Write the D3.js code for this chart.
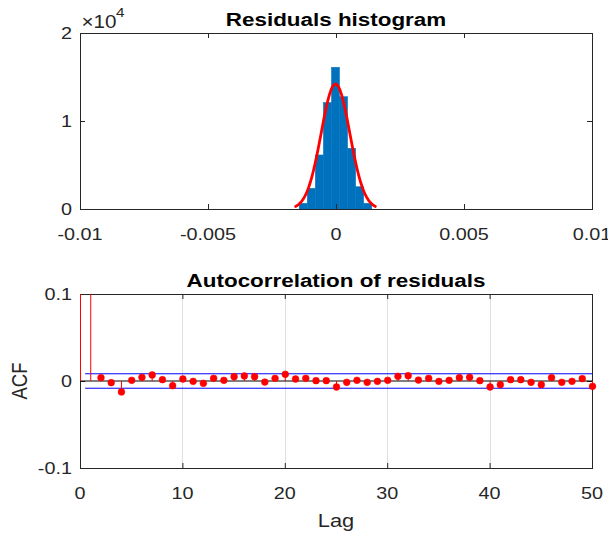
<!DOCTYPE html>
<html>
<head>
<meta charset="utf-8">
<script src="https://cdn.jsdelivr.net/npm/d3@7"></script>
<style>
  html, body { margin: 0; padding: 0; background: #fff; }
  svg { display: block; }
  text { font-family: "Liberation Sans", Arial, Helvetica, sans-serif; fill: #262626; }
</style>
</head>
<body>
<svg id="chart" width="608" height="536"></svg>
<script>
// ---------------- data ----------------
// Histogram of residuals (bin centres and counts)
const histCenters = [-12.8e-4, -9.65e-4, -6.5e-4, -3.35e-4, -0.2e-4, 2.95e-4, 6.1e-4, 9.25e-4, 12.4e-4];
const histCounts  = [650, 2350, 6140, 12100, 16100, 12760, 6900, 2530, 650];
const histBinWidth = 3.15e-4;
// Fitted normal curve parameters (histfit)
const fitMu = -0.2e-4;
const fitSigma = 5.6e-4;
const fitPeak = 14200;
const fitRange = [-15.8e-4, 15.4e-4];

const histXTicks = [-0.01, -0.005, 0, 0.005, 0.01];
const histXTickLabels = ["-0.01", "-0.005", "0", "0.005", "0.01"];
const histYTicks = [0, 1e4, 2e4];
const histYTickLabels = ["0", "1", "2"];

// Autocorrelation of residuals, lags 0..50
const acfLags = d3.range(0, 51);
const acfValues = [
  1, 0.5,
  0.0038, -0.0019, -0.0126, 0.0008, 0.0042, 0.0069, 0.0015, -0.0054,
  0.0023, -0.0004, -0.0027, 0.0031, 0.0008, 0.0050, 0.0058, 0.0050,
  -0.0012, 0.0031, 0.0077, 0.0023, 0.0031, 0.0004, 0.0004, -0.0069,
  -0.0015, 0.0008, -0.0015, -0.0004, 0.0008, 0.0054, 0.0061, 0.0011,
  0.0031, -0.0004, 0.0008, 0.0038, 0.0042, 0.0004, -0.0069, -0.0042,
  0.0015, 0.0015, -0.0015, -0.0042, 0.0038, -0.0015, -0.0004, 0.0027,
  -0.0061
];
const acfBound = 0.0083;
const acfXTicks = [0, 10, 20, 30, 40, 50];
const acfYTicks = [-0.1, 0, 0.1];
const acfYTickLabels = ["-0.1", "0", "0.1"];

// ---------------- drawing ----------------
const SX = 1.18;        // horizontal stretch of the reference text
const FS = 16.8;        // tick font size
const TFS = 19;         // title font size
const AXC = "#262626";

const svg = d3.select("#chart");

function label(g, x, y, str, opt = {}) {
  const rot = opt.rotate ? ` rotate(${opt.rotate})` : "";
  return g.append("text")
    .attr("transform", `translate(${x},${y}) scale(${SX},1)${rot}`)
    .attr("text-anchor", opt.anchor || "middle")
    .attr("font-size", opt.size || FS)
    .attr("font-weight", opt.bold ? "bold" : "normal")
    .style("fill", opt.fill || AXC)
    .text(str);
}

function styleAxis(sel) {
  sel.select(".domain").remove();
  sel.selectAll(".tick line").attr("stroke", AXC).attr("stroke-width", 1);
  sel.selectAll(".tick text").remove();
}

const L = 80, R = 592;

// ===== Histogram panel =====
const hTop = 33, hBot = 209;
const hx = d3.scaleLinear().domain([-0.01, 0.01]).range([L, R]);
const hy = d3.scaleLinear().domain([0, 2e4]).range([hBot, hTop]);

const gH = svg.append("g");

// bars
gH.append("g").selectAll("rect").data(histCenters).join("rect")
  .attr("x", (d) => hx(d - histBinWidth / 2))
  .attr("width", (d) => hx(d + histBinWidth / 2) - hx(d - histBinWidth / 2))
  .attr("y", (d, i) => hy(histCounts[i]))
  .attr("height", (d, i) => hy(0) - hy(histCounts[i]))
  .attr("fill", "#0072BD")
  .attr("stroke", "#0072BD")
  .attr("stroke-width", 0.5);

// fitted normal curve
const curveX = d3.range(0, 101).map((i) => fitRange[0] + (fitRange[1] - fitRange[0]) * i / 100);
const curveLine = d3.line()
  .x((d) => hx(d))
  .y((d) => hy(fitPeak * Math.exp(-0.5 * Math.pow((d - fitMu) / fitSigma, 2))))
  .curve(d3.curveLinear);
gH.append("path").datum(curveX).attr("d", curveLine)
  .attr("fill", "none").attr("stroke", "#FF0000").attr("stroke-width", 2.8)
  .attr("stroke-linejoin", "round").attr("stroke-linecap", "round");

// axes (ticks inside)
styleAxis(gH.append("g").attr("transform", `translate(0,${hBot})`)
  .call(d3.axisBottom(hx).tickValues(histXTicks).tickSizeInner(-5).tickSizeOuter(0)));
styleAxis(gH.append("g").attr("transform", `translate(0,${hTop})`)
  .call(d3.axisTop(hx).tickValues(histXTicks).tickSizeInner(-5).tickSizeOuter(0)));
styleAxis(gH.append("g").attr("transform", `translate(${L},0)`)
  .call(d3.axisLeft(hy).tickValues(histYTicks).tickSizeInner(-5).tickSizeOuter(0)));
styleAxis(gH.append("g").attr("transform", `translate(${R},0)`)
  .call(d3.axisRight(hy).tickValues(histYTicks).tickSizeInner(-5).tickSizeOuter(0)));

gH.append("rect").attr("x", L + 0.5).attr("y", hTop + 0.5).attr("width", R - L).attr("height", hBot - hTop)
  .attr("fill", "none").attr("stroke", AXC).attr("stroke-width", 1);

histXTicks.forEach((t, i) => label(gH, hx(t), hBot + 31, histXTickLabels[i]));
histYTicks.forEach((t, i) => label(gH, L - 8, hy(t) + 6, histYTickLabels[i], { anchor: "end" }));
// exponent
label(gH, L + 1.5, 27.5, "\u00d710", { anchor: "start", size: 17.5 });
label(gH, L + 36, 16.5, "4", { anchor: "start", size: 13 });

label(gH, (L + R) / 2, 26, "Residuals histogram", { bold: true, size: TFS, fill: "#000" });

// ===== ACF panel =====
const aTop = 294, aBot = 468;
const ax = d3.scaleLinear().domain([0, 50]).range([L, R]);
const ay = d3.scaleLinear().domain([-0.1, 0.1]).range([aBot, aTop]);

const gA = svg.append("g");
gA.append("defs").append("clipPath").attr("id", "acfClip")
  .append("rect").attr("x", L - 10).attr("y", aTop).attr("width", R - L + 20).attr("height", aBot - aTop);

// grid
gA.append("g").selectAll("line").data(acfXTicks.slice(1, -1)).join("line")
  .attr("x1", (d) => Math.round(ax(d)) + 0.5).attr("x2", (d) => Math.round(ax(d)) + 0.5)
  .attr("y1", aTop).attr("y2", aBot)
  .attr("stroke", "#dfdfdf").attr("stroke-width", 1);

styleAxis(gA.append("g").attr("transform", `translate(0,${aBot})`)
  .call(d3.axisBottom(ax).tickValues(acfXTicks).tickSizeInner(-5).tickSizeOuter(0)));
styleAxis(gA.append("g").attr("transform", `translate(0,${aTop})`)
  .call(d3.axisTop(ax).tickValues(acfXTicks).tickSizeInner(-5).tickSizeOuter(0)));
styleAxis(gA.append("g").attr("transform", `translate(${L},0)`)
  .call(d3.axisLeft(ay).tickValues(acfYTicks).tickSizeInner(-5).tickSizeOuter(0)));
styleAxis(gA.append("g").attr("transform", `translate(${R},0)`)
  .call(d3.axisRight(ay).tickValues(acfYTicks).tickSizeInner(-5).tickSizeOuter(0)));

gA.append("rect").attr("x", L + 0.5).attr("y", aTop + 0.5).attr("width", R - L).attr("height", aBot - aTop)
  .attr("fill", "none").attr("stroke", AXC).attr("stroke-width", 1);

const plot = gA.append("g").attr("clip-path", "url(#acfClip)");

// zero line
plot.append("line").attr("x1", ax(0)).attr("x2", ax(50)).attr("y1", ay(0)).attr("y2", ay(0))
  .attr("stroke", "#000").attr("stroke-width", 1);
// confidence bounds
[acfBound, -acfBound].forEach((b) => {
  plot.append("line").attr("x1", ax(0.5)).attr("x2", ax(50)).attr("y1", ay(b)).attr("y2", ay(b))
    .attr("stroke", "#0000FF").attr("stroke-width", 1);
});
// stems
plot.append("g").selectAll("line").data(acfLags).join("line")
  .attr("x1", (d) => ax(d) + 0.5).attr("x2", (d) => ax(d) + 0.5)
  .attr("y1", ay(0)).attr("y2", (d, i) => ay(acfValues[i]))
  .attr("stroke", "#FF0000").attr("stroke-width", 1);
// markers
plot.append("g").selectAll("circle").data(acfLags).join("circle")
  .attr("cx", (d) => ax(d) + 0.5).attr("cy", (d, i) => ay(acfValues[i]))
  .attr("r", 3.4).attr("fill", "#FF0000").attr("stroke", "#FF0000").attr("stroke-width", 0.5);

acfXTicks.forEach((t) => label(gA, ax(t), aBot + 31, String(t)));
acfYTicks.forEach((t, i) => label(gA, L - 8, ay(t) + 6, acfYTickLabels[i], { anchor: "end" }));

label(gA, (L + R) / 2, 287, "Autocorrelation of residuals", { bold: true, size: TFS, fill: "#000" });
label(gA, (L + R) / 2, 527, "Lag", { size: 18.5 });
label(gA, 27, (aTop + aBot) / 2, "ACF", { size: 18.5, rotate: -90 });
</script>
</body>
</html>
